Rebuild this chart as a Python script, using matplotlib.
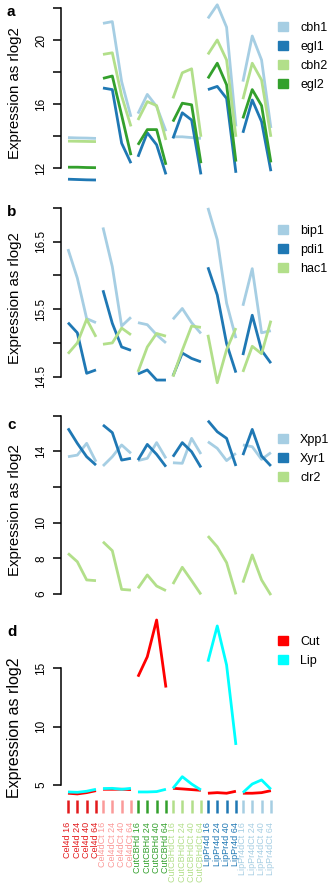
import matplotlib
matplotlib.use("Agg")
import matplotlib.pyplot as plt
from matplotlib.patches import Patch

plt.rcParams['font.family'] = ['Liberation Sans', 'DejaVu Sans']

# sample groups and time points
groups = ['Cel4d', 'Cel4dCt', 'CutCBHd', 'CutCBHdCt', 'LipPr4d', 'LipPr4dCt']
times = [16, 24, 40, 64]
group_colors = ['#E31A1C', '#FB9A99', '#33A02C', '#B2DF8A', '#1F78B4', '#A6CEE3']
sample_labels = [f'{g} {t}' for g in groups for t in times]

# panel a: cellulases
cbh1 = [13.9, 13.88, 13.87, 13.85, 21.04, 21.15, 17.4, 15.2, 15.4, 16.6, 15.85, 14.3,
        13.95, 13.95, 13.9, 13.85, 21.35, 22.2, 20.8, 14.6, 17.4, 20.25, 18.75, 14.5]
egl1 = [11.3, 11.28, 11.26, 11.25, 17.0, 16.9, 13.55, 12.3, 12.7, 14.2, 13.45, 11.6,
        13.85, 15.45, 15.0, 11.6, 16.9, 17.1, 16.35, 11.7, 14.2, 16.25, 14.9, 11.8]
cbh2 = [13.68, 13.67, 13.66, 13.65, 19.1, 19.2, 16.5, 14.6, 15.0, 16.15, 15.9, 13.75,
        16.35, 17.95, 18.2, 13.95, 19.1, 20.0, 18.75, 13.95, 16.3, 18.55, 17.5, 13.95]
egl2 = [12.05, 12.05, 12.03, 12.02, 17.6, 17.75, 15.3, 12.8, 13.45, 14.4, 14.4, 12.2,
        14.9, 16.05, 15.95, 12.3, 17.6, 18.55, 17.2, 12.4, 15.1, 16.9, 15.9, 12.35]

# panel b: UPR genes
bip1 = [16.39, 15.96, 15.36, 15.3, 16.71, 16.13, 15.25, 15.38, 15.3, 15.27, 15.12, 15.0,
        15.35, 15.51, 15.3, 15.14, 17.0, 16.53, 15.59, 15.07, 15.55, 16.1, 15.15, 15.18]
pdi1 = [15.3, 15.15, 14.55, 14.6, 15.78, 15.29, 14.94, 14.89, 14.54, 14.6, 14.45, 14.45,
        14.51, 14.85, 14.77, 14.72, 16.12, 15.71, 14.99, 14.56, 14.82, 15.41, 14.89, 14.7]
hac1 = [14.84, 15.0, 15.35, 15.09, 14.98, 15.0, 15.22, 15.12, 14.57, 14.94, 15.14, 15.1,
        14.5, 14.89, 15.25, 15.23, 15.12, 14.41, 14.9, 15.22, 14.57, 14.95, 14.84, 15.33]

# panel c: regulators
Xpp1 = [13.7, 13.79, 14.45, 13.42, 13.18, 13.7, 14.36, 13.89, 13.48, 13.61, 14.49, 13.61,
        13.36, 13.33, 14.73, 13.85, 14.54, 14.17, 13.48, 13.89, 14.36, 14.26, 13.55, 13.93]
Xyr1 = [15.29, 14.45, 13.7, 13.23, 15.48, 15.05, 13.51, 13.61, 13.51, 14.39, 13.83, 13.14,
        13.7, 14.49, 13.98, 13.1, 15.72, 15.1, 14.73, 13.18, 13.79, 15.23, 13.74, 13.18]
clr2 = [8.28, 7.81, 6.79, 6.75, 8.93, 8.43, 6.26, 6.22, 6.32, 7.07, 6.45, 6.19,
        6.56, 7.5, 6.75, 5.98, 9.25, 8.65, 7.76, 5.98, 6.64, 8.19, 6.79, 5.94]

# panel d: heterologous genes
Cut = [4.29, 4.23, 4.34, 4.51, 4.63, 4.63, 4.63, 4.6, 14.28, 15.99, 19.14, 13.35,
       4.71, 4.66, 4.6, 4.54, 4.29, 4.34, 4.29, 4.46, 4.29, 4.29, 4.34, 4.51]
Lip = [4.4, 4.37, 4.46, 4.63, 4.69, 4.71, 4.63, 4.71, 4.4, 4.4, 4.43, 4.63,
       4.71, 5.71, 5.08, 4.57, 15.57, 18.63, 15.28, 8.43, 4.34, 5.08, 5.43, 4.63]

panels = [
    dict(letter='a', series=[('cbh1', cbh1, '#A6CEE3'), ('egl1', egl1, '#1F78B4'),
                             ('cbh2', cbh2, '#B2DF8A'), ('egl2', egl2, '#33A02C')],
         ylim=(11.0, 22.4), ticks=[12, 14, 16, 18, 20, 22],
         ticklabels=['12', '', '16', '', '20', ''], box=(1.6, 184),
         ylab_y=93.5, ylab_fs=10.8, letter_y=12),
    dict(letter='b', series=[('bip1', bip1, '#A6CEE3'), ('pdi1', pdi1, '#1F78B4'),
                             ('hac1', hac1, '#B2DF8A')],
         ylim=(14.35, 17.05), ticks=[14.5, 15, 15.5, 16, 16.5, 17],
         ticklabels=['14.5', '', '15.5', '', '16.5', ''], box=(204.5, 386.8),
         ylab_y=298, ylab_fs=10.8, letter_y=212),
    dict(letter='c', series=[('Xpp1', Xpp1, '#A6CEE3'), ('Xyr1', Xyr1, '#1F78B4'),
                             ('clr2', clr2, '#B2DF8A')],
         ylim=(5.8, 16.1), ticks=[6, 8, 10, 12, 14, 16],
         ticklabels=['6', '8', '10', '', '14', ''], box=(413.9, 597.6),
         ylab_y=510, ylab_fs=10.8, letter_y=425),
    dict(letter='d', series=[('Cut', Cut, '#FF0000'), ('Lip', Lip, '#00FFFF')],
         ylim=(3.71, 19.5), ticks=[5, 10, 15],
         ticklabels=['5', '10', '15'], box=(615.8, 800),
         ylab_y=728, ylab_fs=11.5, letter_y=632),
]

W, H = 332, 885
fig = plt.figure(figsize=(W / 100, H / 100), dpi=100)

xpos = [g * 3.75 + k for g in range(len(groups)) for k in range(len(times))]

for p in panels:
    top, bottom = p['box']
    ax = fig.add_axes([61 / W, 1 - bottom / H, (W - 61) / W, (bottom - top) / H])
    handles = []
    for name, vals, col in p['series']:
        for g in range(len(groups)):
            sl = slice(g * 4, g * 4 + 4)
            ax.plot(xpos[sl], vals[sl], color=col, lw=2.0, solid_capstyle='butt')
        handles.append(Patch(color=col, label=name))
    ax.set_xlim(-0.75, 28.3)
    ax.set_ylim(*p['ylim'])
    for s in ['top', 'right', 'bottom']:
        ax.spines[s].set_visible(False)
    ax.spines['left'].set_bounds(p['ticks'][0], p['ticks'][-1])
    ax.spines['left'].set_linewidth(1.1)
    ax.set_yticks(p['ticks'])
    ax.set_yticklabels(p['ticklabels'])
    ax.tick_params(axis='y', length=5.8, width=1.1, pad=4, labelsize=8.5)
    for lab in ax.get_yticklabels():
        lab.set_rotation(90)
        lab.set_va('center')
    if p['letter'] == 'd':
        ax.set_xticks(xpos)
        ax.set_xticklabels(sample_labels, rotation=90, fontsize=6.5)
        ax.tick_params(axis='x', length=9.4, width=1.8, pad=6.5)
        for i, (tick, lab) in enumerate(zip(ax.xaxis.get_major_ticks(), ax.get_xticklabels())):
            col = group_colors[i // 4]
            tick.tick1line.set_markeredgecolor(col)
            lab.set_color(col)
    else:
        ax.set_xticks([])
    ax.legend(handles=handles, frameon=False, loc='upper left',
              bbox_to_anchor=(277.7 / W, 1 - (top + 20) / H), bbox_transform=fig.transFigure,
              fontsize=9, handlelength=0.8, handleheight=0.8, handletextpad=1.0,
              labelspacing=0.55, borderpad=0, borderaxespad=0)
    fig.text(15 / W, 1 - p['ylab_y'] / H, 'Expression as rlog2', rotation=90,
             ha='center', va='center', fontsize=p['ylab_fs'])
    fig.text(7 / W, 1 - p['letter_y'] / H, p['letter'], fontweight='bold',
             ha='left', va='center', fontsize=11)

fig.savefig('out.png', dpi=100)
